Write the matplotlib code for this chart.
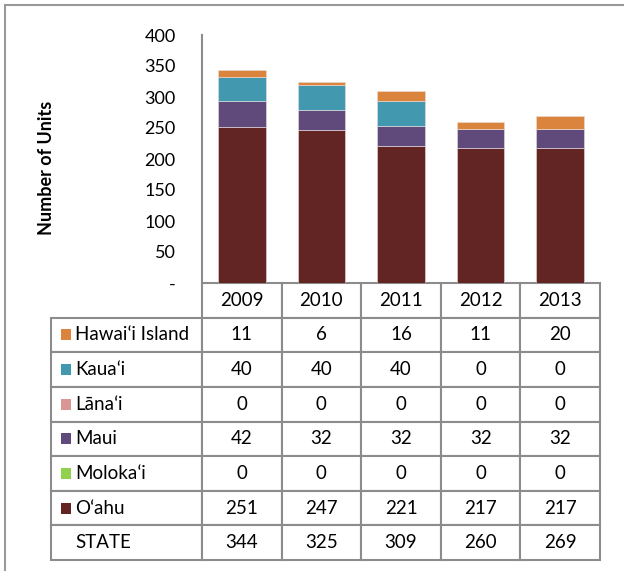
import numpy as np
import matplotlib.pyplot as plt
from matplotlib.table import Table
from matplotlib.patches import Rectangle
from matplotlib.lines import Line2D

plt.rcParams['font.family'] = ['Lato', 'DejaVu Sans']

years = ['2009', '2010', '2011', '2012', '2013']
islands = ['Hawaiʻi Island', 'Kauaʻi', 'Lānaʻi', 'Maui', 'Molokaʻi', 'Oʻahu']
hawaii = [11, 6, 16, 11, 20]
kauai = [40, 40, 40, 0, 0]
lanai = [0, 0, 0, 0, 0]
maui = [42, 32, 32, 32, 32]
molokai = [0, 0, 0, 0, 0]
oahu = [251, 247, 221, 217, 217]
colors = ['#db843d', '#4198af', '#d99694', '#604a7b', '#92d050', '#632523']

series = [hawaii, kauai, lanai, maui, molokai, oahu]
state = np.sum(series, axis=0)

W, H = 624, 571
fig = plt.figure(figsize=(W / 100, H / 100), dpi=100)

# plot area in pixel terms
x0, x1 = 202, 600
y_top, y_base = 35, 283
ax_w, ax_h = x1 - x0, y_base - y_top
ax = fig.add_axes([x0 / W, 1 - y_base / H, ax_w / W, ax_h / H])

# stack from Oahu upward
x = np.arange(len(years))
bottom = np.zeros(len(years))
for vals, c in zip(series[::-1], colors[::-1]):
    ax.bar(x, vals, width=0.6, bottom=bottom, color=c, edgecolor='#e8dede', linewidth=0.4)
    bottom += np.array(vals)

ax.set_xlim(-0.5, len(years) - 0.5)
ax.set_ylim(0, 400)
ax.set_yticks(range(0, 401, 50))
ax.set_yticklabels(['-'] + [str(v) for v in range(50, 401, 50)])
ax.set_xticks([])
ax.tick_params(axis='y', length=0, pad=19, labelsize=13)
for s in ['top', 'right', 'bottom']:
    ax.spines[s].set_visible(False)
ax.spines['left'].set_color('#8c8c8c')
ax.spines['left'].set_linewidth(1.5)

fig.text(47 / W, 1 - 168 / H, 'Number of Units', rotation=90, ha='center', va='center',
         fontsize=13, fontweight='bold')

# data table under the bars (sizes in axes units)
t_left, t_bottom = 51, 560
n_rows = len(islands) + 2
label_w = (x0 - t_left) / ax_w
col_w = 1 / len(years)
row_h = (t_bottom - y_base) / n_rows / ax_h

tbl = Table(ax, bbox=[0, -(t_bottom - y_base) / ax_h, 1, (t_bottom - y_base) / ax_h])
for j, yr in enumerate(years):
    tbl.add_cell(0, j, width=col_w, height=row_h, text=yr, loc='center')
row_names = islands + ['STATE']
row_vals = series + [list(state)]
for i, (name, vals) in enumerate(zip(row_names, row_vals), start=1):
    c = tbl.add_cell(i, -1, width=label_w, height=row_h, text=name, loc='left')
    c.PAD = 24 / (x0 - t_left)
    for j, v in enumerate(vals):
        tbl.add_cell(i, j, width=col_w, height=row_h, text=str(v), loc='center')
tbl.auto_set_font_size(False)
tbl.set_fontsize(13.5)
for cell in tbl.get_celld().values():
    cell.set_edgecolor('#8c8c8c')
    cell.set_linewidth(1.5)
ax.add_table(tbl)

# legend keys inside the label column
row_px = (t_bottom - y_base) / n_rows
for i, c in enumerate(colors, start=1):
    cy = y_base + row_px * (i + 0.5)
    fig.add_artist(Rectangle((61 / W, 1 - (cy + 5.5) / H), 10 / W, 11 / H,
                             transform=fig.transFigure, color=c, linewidth=0))

# frame lines along top and left
fig.add_artist(Line2D([5 / W, 5 / W], [0, 1 - 5 / H], transform=fig.transFigure,
                      color='#999999', linewidth=1.5))
fig.add_artist(Line2D([5 / W, 1], [1 - 5 / H, 1 - 5 / H], transform=fig.transFigure,
                      color='#999999', linewidth=1.5))

fig.savefig('out.png', dpi=100)
